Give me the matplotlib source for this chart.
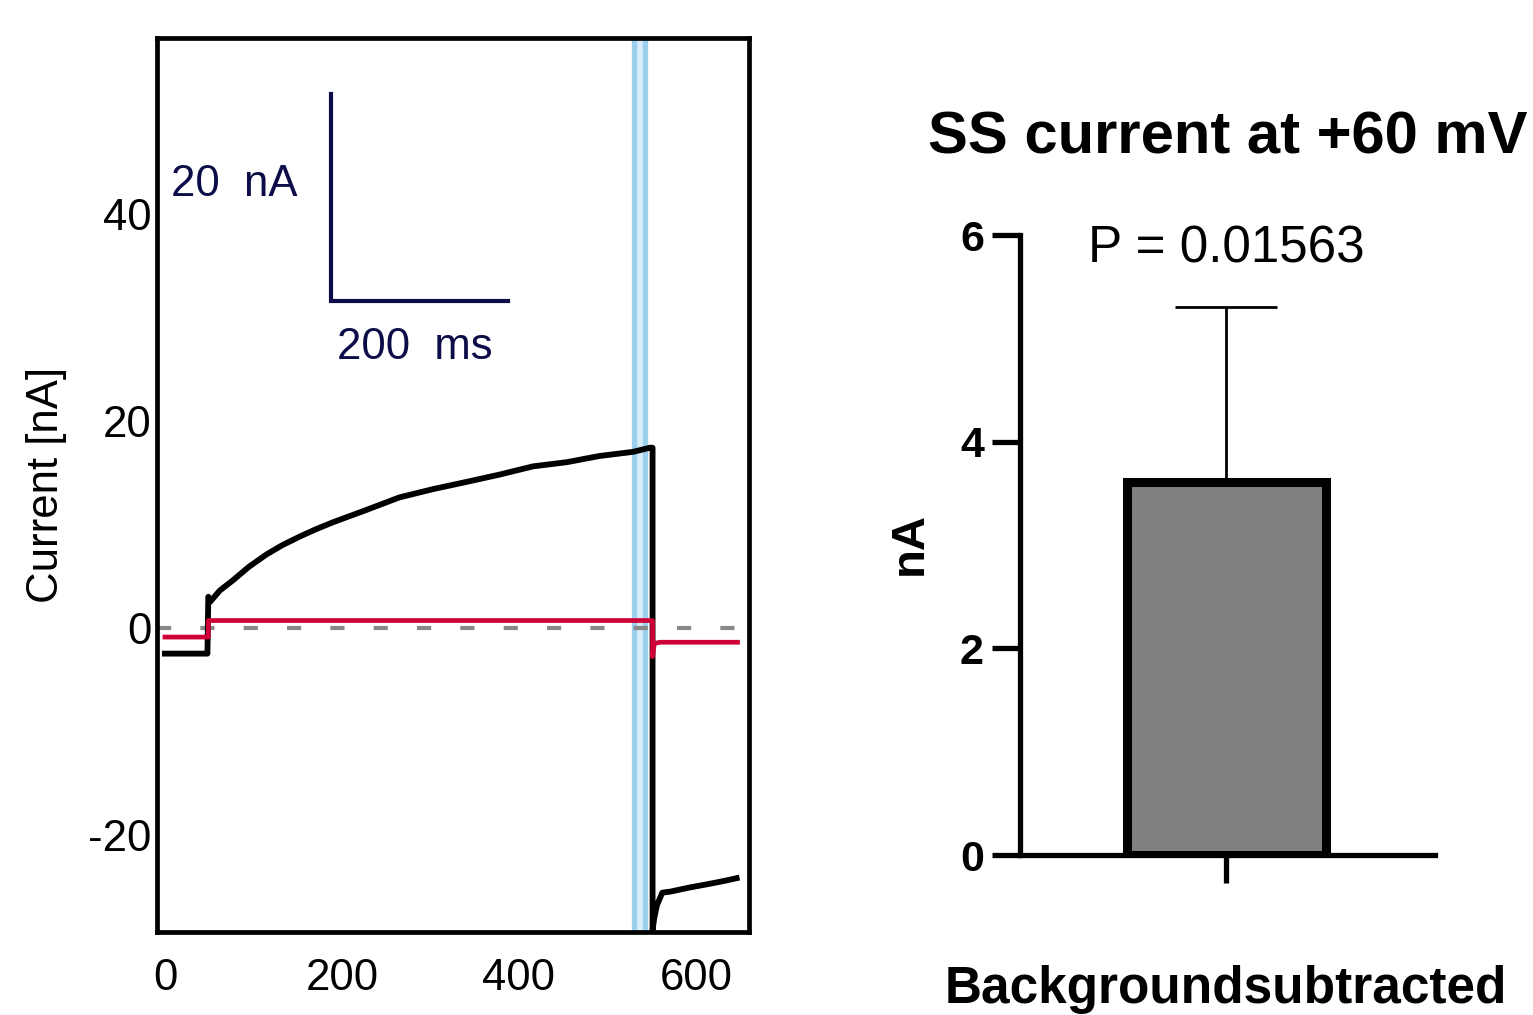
import matplotlib
matplotlib.use("Agg")
import matplotlib.pyplot as plt

plt.rcParams['font.family'] = ['Liberation Sans', 'DejaVu Sans']
plt.rcParams['axes.unicode_minus'] = False

t_black = [0, 48, 49, 51, 62, 77, 95, 115, 133, 152, 170, 190, 228, 265, 303,
           341, 378, 416, 454, 491, 529, 548, 551, 551, 553, 556, 562, 571,
           593, 612, 630, 646]
i_black = [-2.5, -2.5, 3.0, 2.5, 3.6, 4.6, 5.9, 7.1, 8.0, 8.8, 9.5, 10.2,
           11.4, 12.6, 13.4, 14.1, 14.8, 15.6, 16.0, 16.6, 17.0, 17.4, 17.4,
           -29.2, -28.0, -26.8, -25.6, -25.5, -25.1, -24.8, -24.5, -24.2]
t_red = [0, 49, 49, 551, 551, 553, 560, 647]
i_red = [-0.9, -0.9, 0.7, 0.7, -2.8, -1.5, -1.4, -1.4]

# steady-state window
ss_window = [530.5, 542]

# scale bar
bar_origin = (188, 31.6)
bar_ms = 200
bar_na = 20

# bar chart
groups = ['Backgroundsubtracted']
means = [3.61]
err_up = [1.69]
p_text = 'P = 0.01563'

navy = '#0c0c48'
red = '#cf0036'

fig = plt.figure(figsize=(15.33, 10.15), dpi=100)

# ---- left: current traces
ax = fig.add_axes([0.1024, 0.0818, 0.3862, 0.8808])
ax.axvspan(ss_window[0] - 2.5, ss_window[1] + 2.5, color='#d8ecf9', lw=0, zorder=1)
for xv in ss_window:
    ax.axvline(xv, color='#9bd0ee', lw=3.8, zorder=1.5)
ax.plot([-9, 644], [0, 0], color='#888888', lw=3, dashes=(3.4, 7), zorder=2)
ax.plot(t_black, i_black, color='black', lw=4.2, solid_joinstyle='round', zorder=3)
ax.plot(t_red, i_red, color=red, lw=3.4, zorder=4)

# scale bar
x0, y0 = bar_origin
ax.plot([x0, x0, x0 + bar_ms], [y0 + bar_na, y0, y0], color=navy, lw=3,
        solid_joinstyle='miter', zorder=5)
ax.text(78, 42.8, f'{bar_na}  nA', color=navy, fontsize=31.5, ha='center', va='center')
ax.text(282, 27.1, f'{bar_ms}  ms', color=navy, fontsize=31.5, ha='center', va='center')

ax.set_xlim(-9, 660)
ax.set_ylim(-29.4, 57.0)
ax.set_xticks([0, 200, 400, 600])
ax.set_yticks([-20, 0, 20, 40])
ax.tick_params(length=0, labelsize=31.5)
ax.tick_params(axis='x', pad=19)
ax.tick_params(axis='y', pad=4)
for s in ax.spines.values():
    s.set_linewidth(3.4)
ax.set_ylabel('Current [nA]', fontsize=31.5)
ax.yaxis.set_label_coords(-0.152, 0.5)

# ---- right: bar chart
bx = fig.add_axes([0.6654, 0.1576, 0.2707, 0.6108])
bx.bar([0], means, width=0.995, color='#808080', edgecolor='black', linewidth=6.5, zorder=2)
bx.errorbar([0], means, yerr=[[0], err_up], fmt='none', ecolor='black',
            elinewidth=2, capsize=37, capthick=2, zorder=1)
bx.text(0, 5.87, p_text, fontsize=36.8, ha='center', va='center')

bx.set_xlim(-1.03, 1.045)
bx.set_ylim(0, 6)
bx.set_yticks([0, 2, 4, 6])
bx.set_xticks([0])
bx.set_xticklabels(groups, fontsize=37, fontweight='bold')
bx.tick_params(axis='y', length=20, width=3.8, labelsize=31, pad=6)
bx.tick_params(axis='x', length=20, width=3.8, pad=59)
for lab in bx.get_yticklabels():
    lab.set_fontweight('bold')
bx.spines['top'].set_visible(False)
bx.spines['right'].set_visible(False)
bx.spines['left'].set_linewidth(3.8)
bx.spines['bottom'].set_linewidth(3.8)
bx.spines['left'].set_capstyle('projecting')
bx.set_ylabel('nA', fontsize=34, fontweight='bold')
bx.yaxis.set_label_coords(-0.212, 0.503)

fig.text(0.801, 0.864, 'SS current at +60 mV', fontsize=43, fontweight='bold',
         ha='center', va='center')

fig.savefig('out.png', dpi=100)
